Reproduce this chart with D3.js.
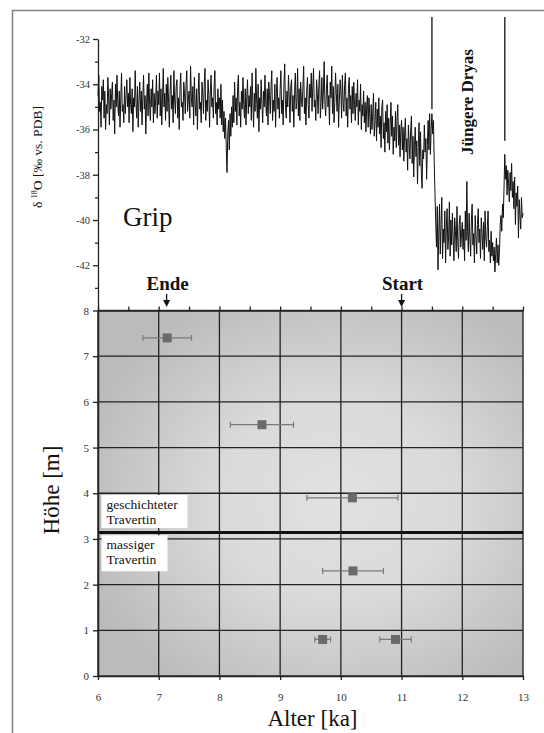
<!DOCTYPE html>
<html>
<head>
<meta charset="utf-8">
<script src="https://cdn.jsdelivr.net/npm/d3@7"></script>
<style>
  body { margin: 0; background: #fff; }
  svg { display: block; font-family: 'Liberation Serif', 'Times New Roman', serif; }
</style>
</head>
<body>
<svg width="544" height="733"></svg>
<script>
const svg = d3.select('svg');

// GRIP d18O record, one reading every 12.5 years from 6.0 ka to 13.0 ka
const gripStart = 6.0;
const gripStep = 0.0125;
const gripValues = [
  // 6.0 - 6.5 ka
  -34.5,-33.6,-35.2,-34.8,-35.9,-34.1,-34.7,-33.8,-35.5,-34.3,-36.0,-34.9,-35.3,-33.7,-34.6,-35.8,-34.2,-35.1,-34.4,-33.9,
  -35.6,-34.7,-36.2,-34.0,-35.0,-33.6,-34.8,-35.4,-34.3,-35.9,-34.6,-33.5,-35.2,-34.9,-35.7,-34.1,-35.3,-34.5,-33.8,-35.0,
  // 6.5 - 7.0 ka
  -34.4,-35.7,-33.7,-34.9,-35.3,-34.2,-36.1,-34.6,-35.0,-33.4,-34.8,-35.5,-34.1,-35.9,-34.7,-33.9,-35.2,-34.3,-35.8,-34.6,
  -33.6,-35.1,-34.5,-36.2,-34.8,-34.0,-35.4,-33.5,-34.9,-35.6,-34.2,-35.0,-33.8,-35.7,-34.4,-35.3,-34.7,-33.6,-35.5,-34.3,
  // 7.0 - 7.5 ka
  -34.9,-33.5,-35.4,-34.2,-35.8,-34.6,-33.3,-35.0,-34.4,-35.6,-34.0,-35.2,-33.7,-34.8,-35.9,-34.3,-33.6,-35.1,-34.5,-35.7,
  -33.4,-34.7,-35.3,-34.1,-33.8,-35.5,-34.6,-36.0,-34.2,-33.5,-35.0,-34.8,-35.6,-33.9,-34.4,-35.3,-34.0,-33.4,-35.2,-34.7,
  // 7.5 - 8.0 ka
  -34.3,-35.5,-33.2,-34.6,-35.0,-34.1,-35.8,-33.7,-34.9,-35.4,-34.2,-36.0,-34.5,-33.5,-35.1,-34.8,-35.7,-33.9,-34.4,-35.3,
  -34.0,-33.3,-35.6,-34.7,-35.2,-33.8,-34.5,-35.9,-34.3,-33.6,-35.0,-34.6,-35.5,-34.1,-33.4,-35.3,-34.8,-35.8,-34.2,-35.1,
  // 8.0 - 8.5 ka (8.2 ka event)
  -34.6,-35.5,-34.0,-35.8,-34.7,-36.1,-35.2,-36.4,-35.5,-36.8,-37.9,-36.2,-35.6,-36.9,-35.3,-36.3,-35.0,-35.9,-34.5,-35.7,
  -33.9,-35.2,-34.6,-35.8,-34.1,-33.6,-35.4,-34.8,-35.9,-34.3,-35.1,-33.7,-34.9,-35.5,-34.2,-35.8,-34.6,-33.8,-35.3,-34.5,
  // 8.5 - 9.0 ka
  -35.0,-34.1,-35.6,-33.5,-34.8,-35.9,-34.4,-35.2,-33.3,-34.7,-35.5,-34.0,-36.1,-34.6,-35.1,-33.8,-34.9,-35.7,-34.3,-35.0,
  -33.6,-34.8,-35.4,-34.2,-35.8,-33.9,-34.5,-35.3,-34.1,-33.4,-35.6,-34.7,-35.2,-34.0,-35.9,-34.4,-33.7,-35.1,-34.6,-35.5,
  // 9.0 - 9.5 ka
  -34.2,-33.4,-35.3,-34.7,-35.8,-34.0,-33.1,-34.9,-35.5,-34.3,-35.0,-33.6,-34.6,-35.7,-34.1,-33.8,-35.2,-34.5,-35.9,-34.4,
  -33.5,-35.1,-34.8,-33.3,-35.4,-34.2,-35.6,-33.9,-34.7,-35.0,-34.1,-33.2,-35.3,-34.6,-35.8,-34.3,-33.7,-34.9,-35.5,-34.0,
  // 9.5 - 10.0 ka
  -34.6,-33.5,-35.2,-34.1,-33.3,-35.0,-34.7,-35.6,-33.8,-34.4,-35.3,-34.0,-33.4,-35.5,-34.8,-33.7,-35.1,-34.3,-33.0,-34.9,
  -35.4,-34.2,-33.6,-35.0,-34.5,-35.8,-33.9,-34.6,-33.2,-35.3,-34.1,-35.7,-34.8,-33.5,-34.4,-35.2,-34.0,-35.9,-34.7,-33.8,
  // 10.0 - 10.5 ka
  -34.3,-35.5,-33.6,-34.8,-35.2,-34.0,-33.5,-35.4,-34.6,-35.9,-34.2,-33.7,-35.1,-34.5,-35.7,-34.1,-35.3,-33.9,-34.9,-35.6,
  -34.4,-35.0,-33.8,-35.8,-34.7,-35.2,-34.0,-36.0,-34.9,-35.4,-34.3,-35.7,-34.8,-36.1,-35.0,-34.5,-35.9,-34.6,-35.3,-36.2,
  // 10.5 - 11.0 ka
  -34.9,-36.0,-35.3,-34.4,-36.3,-35.6,-34.8,-36.5,-35.1,-35.9,-34.6,-36.2,-35.4,-36.8,-35.0,-34.7,-36.4,-35.7,-37.0,-35.2,
  -36.1,-34.9,-36.6,-35.5,-36.9,-35.8,-34.8,-36.3,-35.4,-37.1,-35.9,-36.5,-35.2,-36.8,-35.6,-34.9,-36.7,-35.8,-37.2,-36.0,
  // 11.0 - 11.5 ka
  -35.6,-36.9,-35.9,-37.4,-36.2,-35.5,-37.0,-36.4,-37.8,-35.8,-36.6,-37.3,-36.0,-35.4,-37.5,-36.3,-38.1,-36.7,-35.9,-37.2,
  -36.5,-38.4,-36.8,-35.7,-37.6,-36.1,-37.9,-38.6,-36.9,-37.3,-35.8,-37.0,-36.4,-38.2,-36.7,-35.6,-36.9,-35.3,-37.1,-36.0,
  // 11.5 - 12.0 ka (Younger Dryas)
  -35.3,-36.2,-35.6,-37.4,-38.8,-40.1,-41.2,-39.4,-42.2,-40.6,-39.3,-41.5,-40.2,-39.0,-41.7,-40.4,-41.0,-39.6,-41.9,-40.3,
  -39.5,-41.3,-40.7,-39.2,-41.6,-40.0,-41.1,-39.7,-40.8,-41.8,-39.9,-40.5,-41.4,-39.4,-40.9,-41.7,-40.2,-39.8,-41.2,-40.6,
  // 12.0 - 12.5 ka
  -40.1,-41.3,-40.4,-41.8,-39.6,-40.9,-38.3,-40.5,-41.4,-39.7,-40.8,-41.6,-40.0,-39.3,-41.1,-40.6,-41.9,-39.8,-40.7,-41.5,
  -40.2,-39.5,-41.0,-40.4,-41.7,-39.9,-40.6,-41.3,-40.1,-41.8,-39.6,-40.8,-41.2,-40.3,-39.6,-41.4,-40.9,-41.9,-40.5,-41.6,
  // 12.5 - 13.0 ka
  -41.0,-41.8,-41.2,-42.3,-41.5,-40.8,-41.9,-41.1,-42.0,-41.4,-40.2,-39.8,-40.5,-39.3,-39.9,-38.6,-37.1,-38.2,-37.6,-38.9,
  -37.8,-38.4,-39.2,-37.9,-38.7,-37.5,-39.0,-38.3,-39.5,-38.1,-40.2,-38.8,-39.4,-38.5,-40.8,-39.1,-39.8,-40.4,-39.0,-39.9,
  -39.7
];

// Travertin samples: age [ka], height [m], age error [ka]
const sampleAge = [7.14, 8.70, 10.19, 10.20, 9.70, 10.90];
const sampleHeight = [7.4, 5.5, 3.9, 2.3, 0.8, 0.8];
const sampleErr = [0.40, 0.52, 0.75, 0.50, 0.13, 0.26];

const ageTicks = [6, 7, 8, 9, 10, 11, 12, 13];
const ageMinor = [6, 6.5, 7, 7.5, 8, 8.5, 9, 9.5, 10, 10.5, 11, 11.5, 12, 12.5, 13];
const heightTicks = [0, 1, 2, 3, 4, 5, 6, 7, 8];
const d18oTicks = [-42, -40, -38, -36, -34, -32];
const d18oMinor = [-43, -41, -39, -37, -35, -33];
const dryasBounds = [11.5, 12.7];
const layerBoundary = 3.14;
const markerLabels = ['Ende', 'Start'];
const markerAges = [7.13, 11.0];

// layout
const left = 98, right = 523;
const topY = 39, midY = 310.5, bottomY = 676;
const serif = "'Liberation Serif', 'Times New Roman', serif";

const x = d3.scaleLinear().domain([6, 13]).range([left, right]);
const yTop = d3.scaleLinear().domain([-44, -32]).range([midY, topY]);
const yBot = d3.scaleLinear().domain([0, 8]).range([bottomY, midY]);

// frame
svg.append('path')
  .attr('d', `M12.5,733 V10.5 H544`)
  .attr('fill', 'none')
  .attr('stroke', '#808080')
  .attr('stroke-width', 1.5);

/**
 * Bottom panel
 */
const defs = svg.append('defs');
const grad = defs.append('radialGradient')
  .attr('id', 'bg')
  .attr('cx', '0.56').attr('cy', '0.52').attr('r', '0.62');
grad.append('stop').attr('offset', '0%').attr('stop-color', '#e1e1e1');
grad.append('stop').attr('offset', '45%').attr('stop-color', '#dadada');
grad.append('stop').attr('offset', '100%').attr('stop-color', '#bbbbbb');

svg.append('rect')
  .attr('x', left).attr('y', midY)
  .attr('width', right - left).attr('height', bottomY - midY)
  .attr('fill', 'url(#bg)');

const grid = svg.append('g').attr('stroke', '#222').attr('stroke-width', 1.3);
grid.selectAll('.vgrid').data(ageTicks.slice(1, -1))
  .enter().append('line')
    .attr('x1', d => x(d)).attr('x2', d => x(d))
    .attr('y1', midY).attr('y2', bottomY);
grid.selectAll('.hgrid').data(heightTicks.slice(1, -1))
  .enter().append('line')
    .attr('x1', left).attr('x2', right)
    .attr('y1', d => yBot(d)).attr('y2', d => yBot(d));

svg.append('rect')
  .attr('x', left).attr('y', midY)
  .attr('width', right - left).attr('height', bottomY - midY)
  .attr('fill', 'none')
  .attr('stroke', '#333')
  .attr('stroke-width', 1.5);

// boundary between the two travertine layers
svg.append('line')
  .attr('x1', left).attr('x2', right)
  .attr('y1', yBot(layerBoundary)).attr('y2', yBot(layerBoundary))
  .attr('stroke', '#111')
  .attr('stroke-width', 3);

const layerBox = (x0, y0, w, h, lines) => {
  svg.append('rect')
    .attr('x', x0).attr('y', y0).attr('width', w).attr('height', h)
    .attr('fill', '#fff');
  const t = svg.append('text')
    .attr('font-size', 13.5)
    .attr('fill', '#111');
  lines.forEach((s, i) => {
    t.append('tspan')
      .attr('x', x0 + 5)
      .attr('y', y0 + 14 + i * 15)
      .text(s);
  });
};
layerBox(101.5, yBot(3.96), 86, 33, ['geschichteter', 'Travertin']);
layerBox(101.5, yBot(3.08), 66, 36, ['massiger', 'Travertin']);

// samples
const samples = sampleAge.map((a, i) => ({ age: a, h: sampleHeight[i], err: sampleErr[i] }));
const sg = svg.append('g');
sg.selectAll('.err').data(samples)
  .enter().append('path')
    .attr('d', d => {
      const y0 = yBot(d.h), x0 = x(d.age - d.err), x1 = x(d.age + d.err);
      return `M${x0},${y0} H${x1} M${x0},${y0 - 3} V${y0 + 3} M${x1},${y0 - 3} V${y0 + 3}`;
    })
    .attr('fill', 'none')
    .attr('stroke', '#7a7a7a')
    .attr('stroke-width', 1.2);
sg.selectAll('.pt').data(samples)
  .enter().append('rect')
    .attr('x', d => x(d.age) - 4.5)
    .attr('y', d => yBot(d.h) - 4.5)
    .attr('width', 9).attr('height', 9)
    .attr('fill', '#6a6a6a');

// axes of bottom panel
const styleAxis = (g, size) => {
  g.attr('font-family', serif).attr('font-size', size);
  g.select('.domain').attr('stroke', '#222').attr('stroke-width', 1.5);
  g.selectAll('.tick line').attr('stroke', '#222').attr('stroke-width', 1.3);
  g.selectAll('.tick text').attr('fill', '#333');
};

svg.append('g')
  .attr('transform', `translate(${left},0)`)
  .call(d3.axisLeft(yBot).tickValues(heightTicks).tickFormat(d3.format('d'))
    .tickSize(5).tickPadding(4).tickSizeOuter(0))
  .call(g => styleAxis(g, 11));

svg.append('g')
  .attr('transform', `translate(0,${bottomY})`)
  .call(d3.axisBottom(x).tickValues(ageTicks).tickFormat(d3.format('d'))
    .tickSize(4).tickPadding(13).tickSizeOuter(0))
  .call(g => styleAxis(g, 11));

svg.append('g')
  .attr('transform', `translate(0,${midY})`)
  .call(d3.axisTop(x).tickValues(ageMinor).tickSize(4).tickFormat('').tickSizeOuter(0))
  .call(g => styleAxis(g, 11));

svg.append('text')
  .attr('x', (left + right) / 2 + 2)
  .attr('y', 726)
  .attr('text-anchor', 'middle')
  .attr('font-size', 23)
  .attr('fill', '#111')
  .text('Alter [ka]');

svg.append('text')
  .attr('transform', `translate(59,490) rotate(-90)`)
  .attr('text-anchor', 'middle')
  .attr('font-size', 23)
  .attr('fill', '#111')
  .text('Höhe [m]');

/**
 * Top panel: GRIP record
 */
svg.append('g')
  .attr('transform', `translate(${left},0)`)
  .call(d3.axisLeft(yTop).tickValues(d18oTicks).tickSize(5).tickPadding(3)
    .tickFormat(d => String(d)).tickSizeOuter(0))
  .call(g => styleAxis(g, 10.5))
  .call(g => g.select('.domain').attr('stroke-width', 1.3));

svg.append('g')
  .attr('transform', `translate(${left},0)`)
  .call(d3.axisLeft(yTop).tickValues(d18oMinor).tickSize(3).tickFormat(''))
  .call(g => styleAxis(g, 10.5))
  .call(g => g.select('.domain').remove());

const line = d3.line()
  .x((d, i) => x(gripStart + i * gripStep))
  .y(d => yTop(d));

svg.append('path')
  .datum(gripValues)
  .attr('d', line)
  .attr('fill', 'none')
  .attr('stroke', '#111')
  .attr('stroke-width', 1)
  .attr('stroke-linejoin', 'miter');

// Younger Dryas boundaries
svg.selectAll('.dryas').data(dryasBounds)
  .enter().append('line')
    .attr('x1', d => x(d)).attr('x2', d => x(d))
    .attr('y1', 17)
    .attr('y2', (d, i) => i === 0 ? yTop(-35.1) : yTop(-36.5))
    .attr('stroke', '#222')
    .attr('stroke-width', 1.4);

svg.append('text')
  .attr('transform', `translate(${x(12.1) + 5},102) rotate(-90)`)
  .attr('text-anchor', 'middle')
  .attr('font-size', 17)
  .attr('font-weight', 'bold')
  .attr('fill', '#111')
  .text('Jüngere Dryas');

svg.append('text')
  .attr('x', 123)
  .attr('y', 226)
  .attr('font-size', 27)
  .attr('fill', '#111')
  .text('Grip');

const yLab = svg.append('text')
  .attr('transform', `translate(42,157) rotate(-90)`)
  .attr('text-anchor', 'middle')
  .attr('font-size', 13.5)
  .attr('fill', '#111');
yLab.append('tspan').text('δ ');
yLab.append('tspan').attr('font-size', 8).attr('dy', -5).text('18');
yLab.append('tspan').attr('dy', 5).text('O [‰ vs. PDB]');

// start / end markers
markerLabels.forEach((lab, i) => {
  const mx = x(markerAges[i]);
  svg.append('text')
    .attr('x', mx + 1)
    .attr('y', 290)
    .attr('text-anchor', 'middle')
    .attr('font-size', 19)
    .attr('font-weight', 'bold')
    .attr('fill', '#111')
    .text(lab);
  svg.append('line')
    .attr('x1', mx).attr('x2', mx)
    .attr('y1', 294).attr('y2', 302)
    .attr('stroke', '#111').attr('stroke-width', 1.3);
  svg.append('path')
    .attr('d', `M${mx - 3.5},300 L${mx + 3.5},300 L${mx},307 Z`)
    .attr('fill', '#111');
});
</script>
</body>
</html>
